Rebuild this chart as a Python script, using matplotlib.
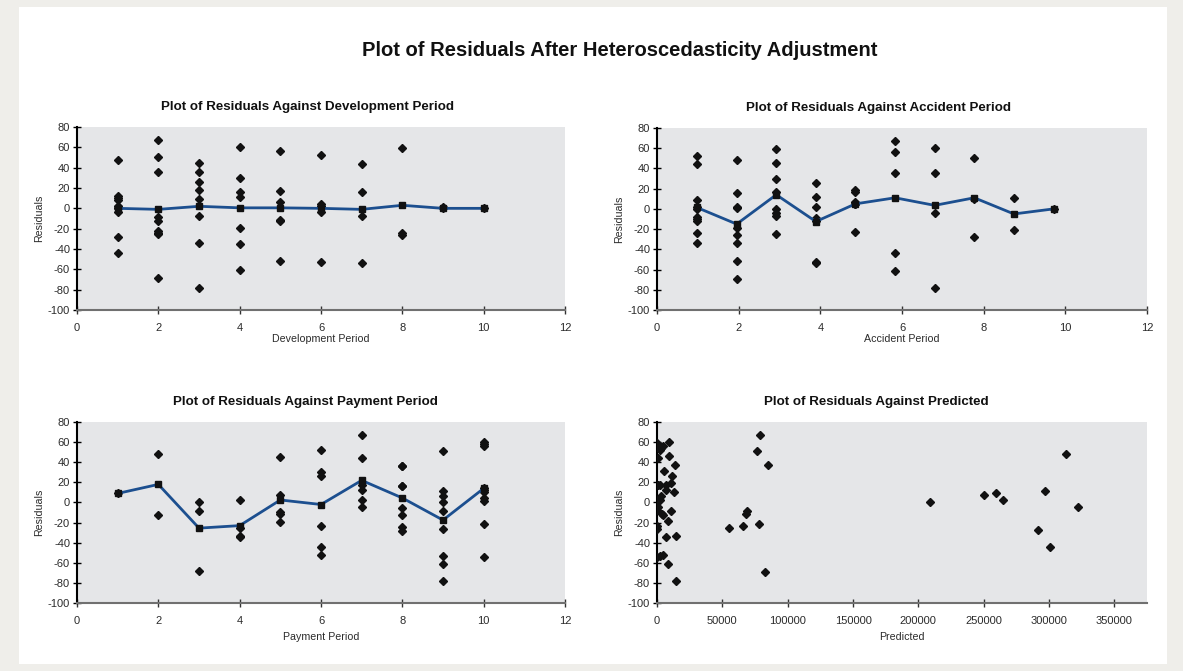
import matplotlib
matplotlib.use("Agg")
import matplotlib.pyplot as plt
from matplotlib.patches import Rectangle

plt.rcParams["font.family"] = ["Liberation Sans", "DejaVu Sans"]
plt.rcParams["axes.unicode_minus"] = False

# Residuals grouped by development period (1..10)
dev_resid = [
    [48, 12, 10, 8, 2, 0, 0, -4, -28, -44],
    [67, 51, 36, -9, -12, -22, -24, -25, -69],
    [45, 36, 26, 18, 9, -8, -34, -78],
    [60, 30, 16, 11, -19, -35, -61],
    [56, 17, 6, -11, -12, -52],
    [52, 4, 2, -4, -53],
    [44, 16, -8, -54],
    [59, -24, -26],
    [1, 0],
    [0],
]
dev_x = [1, 2, 3, 4, 5, 6, 7, 8, 9, 10]
dev_mean = [0, -1, 2, 0.5, 0.5, 0, -1, 3, 0, 0]

# Residuals grouped by accident period (plotted slightly left of the integer)
acc_resid = [
    [52, 44, 9, 2, 0, -8, -10, -12, -24, -34],
    [48, 16, 2, 1, -19, -26, -34, -52, -69],
    [59, 45, 30, 17, 0, -4, -7, -25],
    [26, 12, 2, -9, -12, -53, -54],
    [19, 17, 7, 5, 5, -23],
    [67, 56, 36, -44, -61],
    [60, 36, -4, -78],
    [50, 10, -28],
    [11, -21],
    [0],
]
acc_x = [0.97, 1.95, 2.92, 3.89, 4.86, 5.83, 6.8, 7.77, 8.74, 9.71]
acc_mean = [1.5, -15, 14, -12.5, 5, 11, 3.5, 11, -5, 0]

# Residuals grouped by payment period
pay_resid = [
    [9],
    [48, -12],
    [0, -8, -68],
    [2, -25, -33, -34],
    [45, 7, -9, -11, -19],
    [52, 30, 26, -23, -44, -52],
    [67, 44, 20, 17, 12, 2, -4],
    [36, 36, 16, 16, -5, -12, -24, -28],
    [51, 11, 6, 0, -8, -26, -53, -61, -78],
    [60, 58, 56, 14, 12, 10, 4, 1, -21, -54],
]
pay_x = [1, 2, 3, 4, 5, 6, 7, 8, 9, 10]
pay_mean = [9, 18, -25.5, -23, 2.5, -2, 22, 4.5, -17.5, 14]

# Residuals against predicted values
pred_x = [300, 9000, 2000, 3300, 4600, 500, 9000, 13600, 5400, 11800,
          500, 2000, 7200, 11000, 7200, 13000, 3300, 1300, 2000, 0,
          800, 300, 3800, 4600, 11000, 8500, 300, 300, 7200, 14400,
          300, 2000, 4600, 8500, 14400, 54700, 65900, 68000, 69200, 77700,
          76400, 78700, 84600, 82300, 208900, 250200, 259100, 265000, 291200, 296800,
          300600, 313000, 322200]
pred_y = [59, 60, 52, 54, 56, 44, 46, 37, 31, 26,
          17, 17, 17, 19, 12, 10, 6, 3, 2, 1,
          -4, -7, -11, -12, -8, -18, -23, -26, -34, -33,
          -54, -53, -52, -61, -78, -25, -23, -11, -8, -21,
          51, 67, 37, -69, 0, 7, 9, 2, -27, 11,
          -44, 48, -4]

y_ticks = list(range(-100, 81, 20))
period_ticks = [0, 2, 4, 6, 8, 10, 12]
pred_ticks = [0, 50000, 100000, 150000, 200000, 250000, 300000, 350000]

PLOT_BG = "#e5e6e8"
LINE_BLUE = "#1c4f8f"
TEXT = "#2b2b2b"

fig = plt.figure(figsize=(11.83, 6.71), dpi=100)
fig.patch.set_facecolor("#efeeea")
# white card behind everything
fig.patches.append(Rectangle((0.016, 0.0105), 0.9705, 0.979,
                             transform=fig.transFigure, facecolor="white",
                             edgecolor="none", zorder=-10))

fig.text(0.524, 0.925, "Plot of Residuals After Heteroscedasticity Adjustment",
         ha="center", va="center", fontsize=14.5, fontweight="bold", color="#111111")

axes_pos = {
    "dev": [0.0651, 0.538, 0.4125, 0.2727],
    "acc": [0.5554, 0.538, 0.4142, 0.2712],
    "pay": [0.0651, 0.1013, 0.4125, 0.2697],
    "pred": [0.5554, 0.1013, 0.4142, 0.2697],
}


def style_axes(ax, title, title_x, xlabel, labelpad):
    ax.set_facecolor(PLOT_BG)
    ax.set_ylim(-100, 80)
    ax.set_yticks(y_ticks)
    for side in ("top", "right"):
        ax.spines[side].set_visible(False)
    ax.spines["left"].set_color("black")
    ax.spines["left"].set_linewidth(1.5)
    ax.spines["bottom"].set_color("#707070")
    ax.spines["bottom"].set_linewidth(1.5)
    ax.tick_params(axis="y", direction="inout", length=6, width=1,
                   labelsize=8, labelcolor=TEXT, pad=2)
    ax.tick_params(axis="x", direction="inout", length=6, width=1, color="#333333",
                   labelsize=8, labelcolor=TEXT, pad=6)
    # chart titles are centred over the whole chart box, not the plot area
    ax.set_title(title, x=title_x, fontsize=9.6, fontweight="bold",
                 color="#111111", pad=12)
    ax.set_xlabel(xlabel, fontsize=7.7, color=TEXT, labelpad=labelpad)
    ax.set_ylabel("Residuals", fontsize=7.7, color=TEXT, labelpad=3)


def grouped_plot(ax, xs, groups, means):
    for x, vals in zip(xs, groups):
        ax.plot([x] * len(vals), vals, linestyle="none", marker="D",
                markersize=4.4, color="#111111", zorder=3)
    ax.plot(xs, means, color=LINE_BLUE, linewidth=2, marker="s",
            markersize=4.5, markerfacecolor="#111111", markeredgecolor="#111111",
            zorder=4)
    ax.set_xlim(0, 12)
    ax.set_xticks(period_ticks)


ax = fig.add_axes(axes_pos["dev"])
grouped_plot(ax, dev_x, dev_resid, dev_mean)
style_axes(ax, "Plot of Residuals Against Development Period", 0.473,
           "Development Period", 1)

ax = fig.add_axes(axes_pos["acc"])
grouped_plot(ax, acc_x, acc_resid, acc_mean)
style_axes(ax, "Plot of Residuals Against Accident Period", 0.451,
           "Accident Period", 1)

ax = fig.add_axes(axes_pos["pay"])
grouped_plot(ax, pay_x, pay_resid, pay_mean)
style_axes(ax, "Plot of Residuals Against Payment Period", 0.469,
           "Payment Period", 5)

ax = fig.add_axes(axes_pos["pred"])
ax.plot(pred_x, pred_y, linestyle="none", marker="D", markersize=4.4,
        color="#111111", zorder=3)
ax.set_xlim(0, 375000)
ax.set_xticks(pred_ticks)
ax.set_xticklabels([str(t) for t in pred_ticks])
style_axes(ax, "Plot of Residuals Against Predicted", 0.447, "Predicted", 5)

fig.savefig("out.png", dpi=100, facecolor=fig.get_facecolor())
